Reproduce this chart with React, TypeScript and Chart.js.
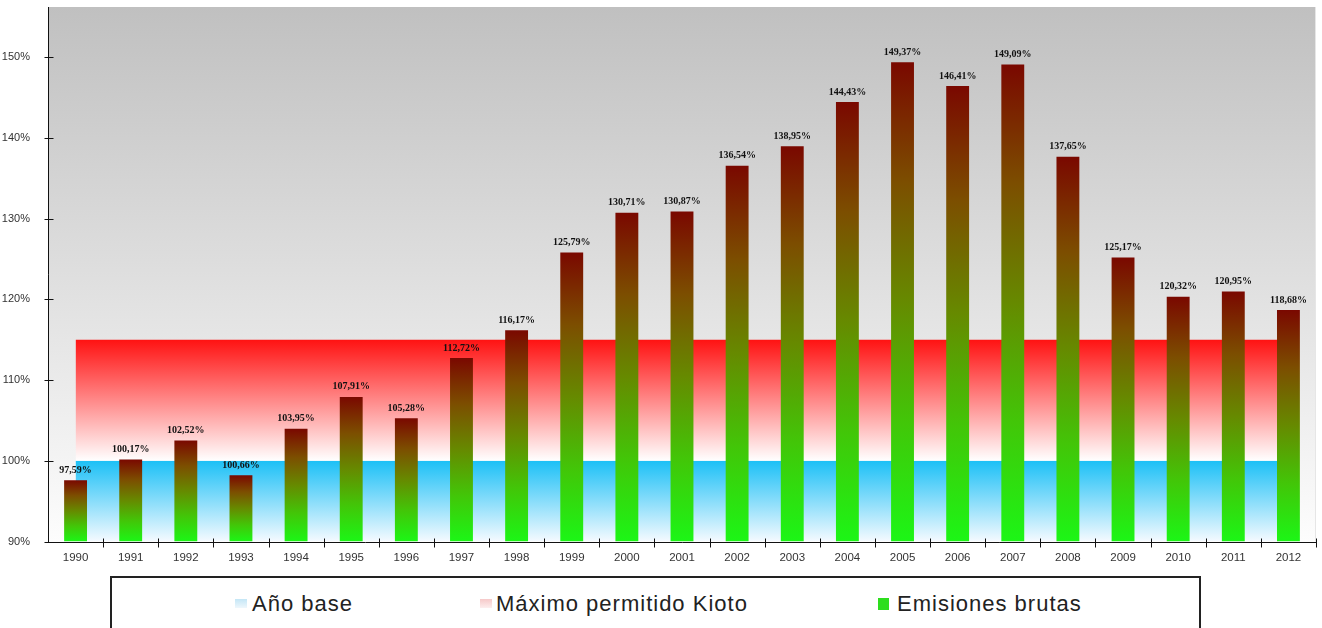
import React, { useEffect, useRef } from 'react';
import { Chart, registerables } from 'chart.js';

Chart.register(...registerables);

const years = ['1990','1991','1992','1993','1994','1995','1996','1997','1998','1999','2000','2001','2002','2003','2004','2005','2006','2007','2008','2009','2010','2011','2012'];
const emisiones = [97.59, 100.17, 102.52, 98.2, 103.95, 107.91, 105.28, 112.72, 116.17, 125.79, 130.71, 130.87, 136.54, 138.95, 144.43, 149.37, 146.41, 149.09, 137.65, 125.17, 120.32, 120.95, 118.68];
const emisionesLabels = ['97,59%','100,17%','102,52%','100,66%','103,95%','107,91%','105,28%','112,72%','116,17%','125,79%','130,71%','130,87%','136,54%','138,95%','144,43%','149,37%','146,41%','149,09%','137,65%','125,17%','120,32%','120,95%','118,68%'];
const anoBase = [100,100,100,100,100,100,100,100,100,100,100,100,100,100,100,100,100,100,100,100,100,100,100];
const maximoKioto = [115,115,115,115,115,115,115,115,115,115,115,115,115,115,115,115,115,115,115,115,115,115,115];
const yTicks = [90, 100, 110, 120, 130, 140, 150];
const yMin = 90;
const yMax = 156.2;
const seriesNames = ['Año base', 'Máximo permitido Kioto', 'Emisiones brutas'];

const bgPlugin = {
  id: 'bgPlugin',
  beforeDraw(chart: any) {
    const { ctx, chartArea } = chart;
    if (!chartArea) return;
    const g = ctx.createLinearGradient(0, chartArea.top, 0, chartArea.bottom);
    g.addColorStop(0, '#c0c0c0');
    g.addColorStop(1, '#fdfdfd');
    ctx.save();
    ctx.fillStyle = g;
    ctx.fillRect(chartArea.left, chartArea.top, chartArea.right - chartArea.left, chartArea.bottom - chartArea.top);
    ctx.strokeStyle = '#e6e6e6';
    ctx.lineWidth = 1;
    ctx.beginPath();
    ctx.moveTo(chartArea.right - 0.5, chartArea.top);
    ctx.lineTo(chartArea.right - 0.5, chartArea.bottom);
    ctx.stroke();
    ctx.restore();
  },
};

const axesPlugin = {
  id: 'axesPlugin',
  afterDatasetsDraw(chart: any) {
    const { ctx, chartArea, scales } = chart;
    const x = scales.x;
    const y = scales.y;
    ctx.save();
    ctx.strokeStyle = '#111';
    ctx.lineWidth = 1;
    ctx.beginPath();
    const ax = Math.round(chartArea.left) + 0.5;
    const ay = Math.round(chartArea.bottom) + 0.5;
    ctx.moveTo(ax, chartArea.top);
    ctx.lineTo(ax, ay);
    ctx.lineTo(chartArea.right, ay);
    yTicks.forEach((v) => {
      const py = Math.round(y.getPixelForValue(v)) + 0.5;
      ctx.moveTo(ax - 4, py);
      ctx.lineTo(ax + 5, py);
    });
    const n = years.length;
    const step = x.getPixelForValue(1) - x.getPixelForValue(0);
    for (let i = 0; i < n; i++) {
      const px = Math.round(x.getPixelForValue(i) + step / 2) + 0.5;
      ctx.moveTo(px, ay - 4);
      ctx.lineTo(px, ay + 5);
    }
    ctx.stroke();

    const meta = chart.getDatasetMeta(2);
    ctx.fillStyle = '#111';
    ctx.font = 'bold 10px "Liberation Serif", "Times New Roman", serif';
    ctx.textAlign = 'center';
    ctx.textBaseline = 'middle';
    meta.data.forEach((el: any, i: number) => {
      ctx.fillText(emisionesLabels[i], el.x, el.y - 10);
    });
    ctx.restore();
  },
};

function barGradient(ctx: any) {
  const chart = ctx.chart;
  const { chartArea, scales } = chart;
  if (!chartArea || ctx.type !== 'data') return '#4a9a00';
  const v = ctx.raw as number;
  const top = scales.y.getPixelForValue(v);
  const bot = scales.y.getPixelForValue(yMin);
  const g = chart.ctx.createLinearGradient(0, top, 0, bot);
  g.addColorStop(0, 'rgb(122,8,0)');
  g.addColorStop(0.25, 'rgb(124,78,0)');
  g.addColorStop(0.5, 'rgb(102,138,0)');
  g.addColorStop(0.75, 'rgb(66,198,8)');
  g.addColorStop(1, 'rgb(28,246,22)');
  return g;
}

function bandGradient(top: number, bottom: number, c1: string, c2: string) {
  return (ctx: any) => {
    const chart = ctx.chart;
    const { chartArea, scales } = chart;
    if (!chartArea) return c1;
    const g = chart.ctx.createLinearGradient(0, scales.y.getPixelForValue(top), 0, scales.y.getPixelForValue(bottom));
    g.addColorStop(0, c1);
    g.addColorStop(1, c2);
    return g;
  };
}

export default function App() {
  const canvasRef = useRef<HTMLCanvasElement | null>(null);

  useEffect(() => {
    if (!canvasRef.current) return;
    const chart = new Chart(canvasRef.current, {
      type: 'bar',
      data: {
        labels: years,
        datasets: [
          {
            type: 'line',
            label: seriesNames[0],
            data: anoBase,
            borderWidth: 0,
            pointRadius: 0,
            fill: { value: 90 },
            backgroundColor: bandGradient(100, 90, 'rgb(28,192,246)', 'rgba(245,250,255,1)'),
            borderColor: 'rgba(0,0,0,0)',
            order: 3,
          } as any,
          {
            type: 'line',
            label: seriesNames[1],
            data: maximoKioto,
            borderWidth: 0,
            pointRadius: 0,
            fill: { value: 100 },
            backgroundColor: bandGradient(115, 100, 'rgb(255,18,18)', 'rgba(255,255,255,1)'),
            borderColor: 'rgba(0,0,0,0)',
            order: 2,
          } as any,
          {
            type: 'bar',
            label: seriesNames[2],
            data: emisiones,
            backgroundColor: barGradient,
            borderWidth: 0,
            categoryPercentage: 1,
            barPercentage: 0.415,
            base: yMin,
            order: 1,
          } as any,
        ],
      },
      options: {
        animation: false,
        responsive: true,
        maintainAspectRatio: false,
        layout: { padding: { top: 7, right: 6, left: 0, bottom: 0 } },
        plugins: {
          legend: { display: false },
          tooltip: { enabled: false },
        },
        scales: {
          x: {
            grid: { display: false },
            border: { display: false },
            ticks: {
              color: '#333',
              font: { family: '"Liberation Sans", Arial, sans-serif', size: 11.5 },
              padding: 1,
              maxRotation: 0,
              autoSkip: false,
            },
            afterFit(scale: any) {
              scale.height = 86.5;
              scale.paddingLeft = 0;
              scale.paddingRight = 0;
            },
          },
          y: {
            min: yMin,
            max: yMax,
            grid: { display: false },
            border: { display: false },
            afterBuildTicks(scale: any) {
              scale.ticks = yTicks.map((v) => ({ value: v }));
            },
            ticks: {
              color: '#333',
              font: { family: '"Liberation Sans", Arial, sans-serif', size: 11 },
              padding: 10,
              callback: (v: any) => `${v}%`,
            },
            afterFit(scale: any) {
              scale.width = 48;
              scale.paddingTop = 0;
              scale.paddingBottom = 0;
            },
          },
        },
      },
      plugins: [bgPlugin, axesPlugin],
    });
    return () => chart.destroy();
  }, []);

  const legendFont = '"Liberation Sans", Arial, sans-serif';
  const textStyle: React.CSSProperties = {
    position: 'absolute',
    top: 592.8,
    fontFamily: legendFont,
    fontSize: 22,
    lineHeight: '22px',
    letterSpacing: '1px',
    color: '#222',
    whiteSpace: 'nowrap',
  };

  return (
    <div style={{ position: 'absolute', left: 0, top: 0, width: 1322, height: 628, overflow: 'hidden', background: '#fff' }}>
      <canvas ref={canvasRef} />
      <div
        style={{
          position: 'absolute',
          left: 110,
          top: 576,
          width: 1091,
          height: 70,
          border: '2px solid #222',
          boxSizing: 'border-box',
          background: '#fff',
        }}
      />
      <div style={{ position: 'absolute', left: 235, top: 599, width: 12, height: 9, background: 'linear-gradient(#c4e6f6, #eef7fc)' }} />
      <div style={{ ...textStyle, left: 252 }}>{seriesNames[0]}</div>
      <div style={{ position: 'absolute', left: 480, top: 599, width: 12, height: 9, background: 'linear-gradient(#f6c9c9, #fdeeee)' }} />
      <div style={{ ...textStyle, left: 496 }}>{seriesNames[1]}</div>
      <div style={{ position: 'absolute', left: 878, top: 598, width: 11, height: 12, background: '#2ede1e' }} />
      <div style={{ ...textStyle, left: 897 }}>{seriesNames[2]}</div>
    </div>
  );
}
